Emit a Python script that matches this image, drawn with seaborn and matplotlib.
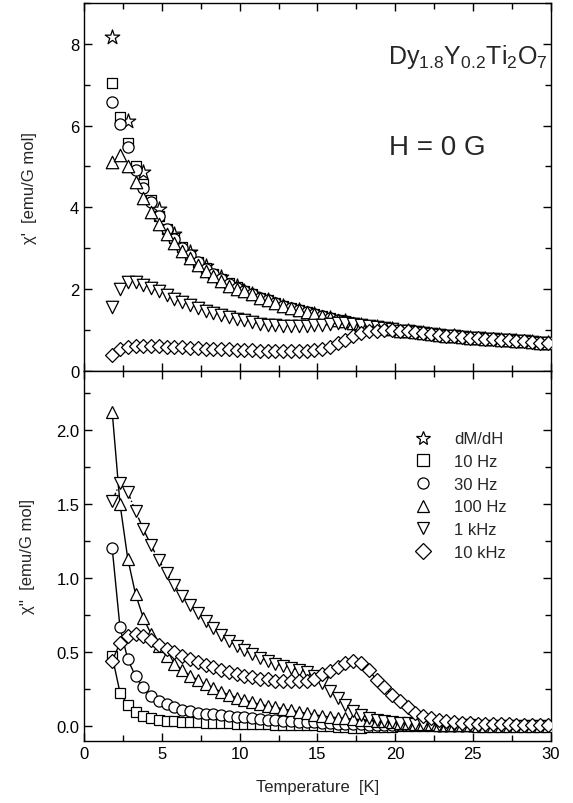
import numpy as np
import matplotlib
matplotlib.use("Agg")
import matplotlib.pyplot as plt
from matplotlib.lines import Line2D
from matplotlib.ticker import MultipleLocator, FormatStrFormatter
import seaborn as sns

# temperature grid of the ac data (K)
T_lo = [1.8, 2.3, 2.8, 3.3, 3.8, 4.3, 4.8, 5.3, 5.8, 6.3, 6.8, 7.3, 7.8, 8.3, 8.8, 9.3, 9.8]
T_hi = [10.3, 10.8, 11.3, 11.8, 12.3, 12.8, 13.3, 13.8, 14.3, 14.8,
        15.3, 15.8, 16.3, 16.8, 17.3, 17.8, 18.3, 18.8, 19.3, 19.8,
        20.3, 20.8, 21.3, 21.8, 22.3, 22.8, 23.3, 23.8, 24.3, 24.8,
        25.3, 25.8, 26.3, 26.8, 27.3, 27.8, 28.3, 28.8, 29.3, 29.8]
T_ac = T_lo + T_hi

# dM/dH points (1 K step)
T_dc = [1.8, 2.8, 3.8, 4.8, 5.8, 6.8, 7.8, 8.8, 9.8, 10.8, 11.8, 12.8, 13.8, 14.8, 15.8,
        16.8, 17.8, 18.8, 19.8, 20.8, 21.8, 22.8, 23.8, 24.8, 25.8, 26.8, 27.8, 28.8, 29.8]
chi1_dc = [8.17, 6.12, 4.86, 3.96, 3.35, 2.90, 2.57, 2.29, 2.07, 1.87, 1.72, 1.59, 1.48, 1.38, 1.29,
           1.21, 1.13, 1.07, 1.01, 0.96, 0.92, 0.88, 0.84, 0.81, 0.78, 0.75, 0.73, 0.70, 0.68]

# chi' above 10 K, where the curves fall together
chi1_common = [1.95, 1.87, 1.79, 1.72, 1.65, 1.59, 1.53, 1.48, 1.43, 1.38,
               1.33, 1.29, 1.25, 1.21, 1.17, 1.13, 1.10, 1.07, 1.04, 1.01,
               0.98, 0.96, 0.94, 0.92, 0.90, 0.88, 0.86, 0.84, 0.83, 0.81,
               0.80, 0.78, 0.77, 0.75, 0.74, 0.73, 0.72, 0.70, 0.69, 0.68]

chi1_10 = [7.05, 6.22, 5.58, 5.02, 4.58, 4.18, 3.78, 3.48, 3.24, 3.03, 2.84, 2.67, 2.51, 2.37, 2.25, 2.14, 2.04] + chi1_common
chi1_30 = [6.58, 6.05, 5.47, 4.92, 4.47, 4.12, 3.78, 3.46, 3.22, 3.01, 2.82, 2.66, 2.50, 2.36, 2.24, 2.13, 2.03] + chi1_common
chi1_100 = [5.12, 5.28, 5.00, 4.63, 4.23, 3.89, 3.59, 3.35, 3.13, 2.92, 2.75, 2.59, 2.43, 2.32, 2.19, 2.08, 1.99] + chi1_common
chi1_1k = ([1.55, 2.00, 2.16, 2.16, 2.10, 2.02, 1.94, 1.85, 1.76, 1.68, 1.60, 1.53, 1.47, 1.41, 1.36, 1.31, 1.27]
           + [1.23, 1.19, 1.15, 1.13, 1.11, 1.10, 1.09, 1.09, 1.10, 1.11, 1.13, 1.15, 1.17, 1.17, 1.15]
           + chi1_common[15:])
chi1_10k = ([0.39, 0.52, 0.58, 0.60, 0.61, 0.61, 0.60, 0.59, 0.58, 0.57, 0.56, 0.55, 0.54, 0.53, 0.53, 0.52, 0.51]
            + [0.50, 0.50, 0.49, 0.49, 0.48, 0.48, 0.47, 0.47, 0.48, 0.50, 0.53, 0.59, 0.67, 0.76, 0.85,
               0.92, 0.96, 0.98, 0.99, 0.99, 0.97]
            + chi1_common[21:])

# chi''
chi2_10 = [0.47, 0.225, 0.14, 0.095, 0.068, 0.05, 0.04, 0.033, 0.03, 0.027, 0.025, 0.023, 0.021, 0.02, 0.018, 0.017, 0.015,
           0.014, 0.012, 0.011, 0.010, 0.009, 0.008, 0.007, 0.006, 0.005, 0.004,
           0.002, 0.0, -0.005, -0.01, -0.012, -0.012, -0.01, -0.008, -0.006, -0.005,
           -0.004, -0.003, -0.002, -0.002, -0.001, 0.0, 0.0, 0.0, 0.0, 0.0,
           0.0, 0.0, 0.0, 0.0, 0.0, 0.0, 0.0, 0.0, 0.0, 0.0]
chi2_30 = [1.20, 0.665, 0.45, 0.335, 0.26, 0.205, 0.17, 0.145, 0.125, 0.11, 0.10, 0.09, 0.083, 0.077, 0.071, 0.066, 0.062,
           0.057, 0.052, 0.047, 0.043, 0.039, 0.035, 0.032, 0.029, 0.026, 0.023,
           0.020, 0.018, 0.016, 0.014, 0.012, 0.010, 0.009, 0.008, 0.007, 0.006,
           0.005, 0.004, 0.004, 0.003, 0.003, 0.002, 0.002, 0.002, 0.001, 0.001,
           0.0, 0.0, 0.0, 0.0, 0.0, 0.0, 0.0, 0.0, 0.0, 0.0]
chi2_100 = [2.12, 1.50, 1.13, 0.89, 0.73, 0.62, 0.54, 0.47, 0.42, 0.38, 0.34, 0.31, 0.28, 0.255, 0.23, 0.21, 0.19,
            0.175, 0.16, 0.145, 0.135, 0.125, 0.115, 0.105, 0.095, 0.085, 0.075,
            0.068, 0.06, 0.055, 0.05, 0.046, 0.042, 0.038, 0.034, 0.03, 0.026,
            0.022, 0.018, 0.015, 0.012, 0.01, 0.008, 0.006, 0.005, 0.004, 0.003,
            0.002, 0.002, 0.001, 0.001, 0.0, 0.0, 0.0, 0.0, 0.0, 0.0]
chi2_1k = [1.52, 1.64, 1.58, 1.45, 1.33, 1.22, 1.12, 1.03, 0.95, 0.88, 0.815, 0.76, 0.71, 0.66, 0.615, 0.575, 0.54,
           0.51, 0.485, 0.46, 0.44, 0.42, 0.405, 0.39, 0.38, 0.365, 0.34,
           0.29, 0.235, 0.19, 0.14, 0.10, 0.075, 0.055, 0.04, 0.03, 0.025,
           0.02, 0.018, 0.015, 0.012, 0.01, 0.008, 0.006, 0.005, 0.004, 0.003,
           0.002, 0.002, 0.001, 0.001, 0.0, 0.0, 0.0, 0.0, 0.0, 0.0]
chi2_10k = [0.44, 0.56, 0.61, 0.62, 0.61, 0.58, 0.545, 0.52, 0.50, 0.47, 0.45, 0.43, 0.41, 0.395, 0.38, 0.365, 0.35,
            0.34, 0.33, 0.32, 0.315, 0.305, 0.30, 0.30, 0.30, 0.305, 0.32,
            0.35, 0.37, 0.40, 0.425, 0.44, 0.425, 0.38, 0.31, 0.265, 0.21,
            0.165, 0.125, 0.09, 0.067, 0.05, 0.04, 0.03, 0.025, 0.02, 0.018,
            0.015, 0.013, 0.012, 0.01, 0.01, 0.008, 0.007, 0.006, 0.005, 0.005]

labels = ["dM/dH", "10 Hz", "30 Hz", "100 Hz", "1 kHz", "10 kHz"]
markers = ["*", "s", "o", "^", "v", "D"]

sns.set_theme(style="ticks")
plt.rcParams["font.family"] = ["Liberation Sans", "DejaVu Sans"]
plt.rcParams["mathtext.default"] = "regular"

fig = plt.figure(figsize=(5.73, 8.04), dpi=100)
ax1 = fig.add_axes([0.147, 0.5377, 0.814, 0.4573])
ax2 = fig.add_axes([0.147, 0.0775, 0.814, 0.4602])

sizes = {"*": 120, "s": 55, "o": 65, "^": 80, "v": 80, "D": 50}

# top panel: chi'
top_series = [(T_dc, chi1_dc, "*"), (T_ac, chi1_10, "s"), (T_ac, chi1_30, "o"),
              (T_ac, chi1_100, "^"), (T_ac, chi1_1k, "v"), (T_ac, chi1_10k, "D")]
for xs, ys, m in top_series:
    sns.scatterplot(x=xs, y=ys, ax=ax1, marker=m, s=sizes[m], color="white",
                    edgecolor="black", linewidth=0.9, zorder=3)

# bottom panel: chi''
bot_series = [(chi2_10, "s", "-"), (chi2_30, "o", "-"), (chi2_100, "^", "-"),
              (chi2_1k, "v", "-."), (chi2_10k, "D", "-")]
msz = {"s": 7, "o": 8, "^": 9, "v": 9, "D": 7}
for ys, m, ls in bot_series:
    sns.lineplot(x=T_ac, y=ys, ax=ax2, marker=m, markersize=msz[m], markerfacecolor="white",
                 markeredgecolor="black", markeredgewidth=0.9, color="black", linewidth=1.0,
                 linestyle=ls, sort=False, errorbar=None, zorder=3)

for ax in (ax1, ax2):
    ax.set_xlim(0, 30)
    ax.xaxis.set_major_locator(MultipleLocator(5))
    ax.xaxis.set_minor_locator(MultipleLocator(2.5))
    ax.tick_params(which="both", direction="in", top=True, right=True, labelsize=12, colors="black")
    ax.tick_params(which="major", length=6, width=1)
    ax.tick_params(which="minor", length=4, width=1)
    for sp in ax.spines.values():
        sp.set_color("black")
        sp.set_linewidth(1.0)

ax1.set_ylim(0, 9)
ax1.yaxis.set_major_locator(MultipleLocator(2))
ax1.yaxis.set_minor_locator(MultipleLocator(1))
ax1.tick_params(labelbottom=False)
ax1.set_ylabel("χ'  [emu/G mol]", fontsize=12, labelpad=24)

ax2.set_ylim(-0.1, 2.4)
ax2.yaxis.set_major_locator(MultipleLocator(0.5))
ax2.yaxis.set_minor_locator(MultipleLocator(0.25))
ax2.yaxis.set_major_formatter(FormatStrFormatter("%.1f"))
ax2.set_ylabel("χ''  [emu/G mol]", fontsize=12, labelpad=15)
ax2.set_xlabel("Temperature  [K]", fontsize=12, labelpad=13)

ax1.text(0.823, 0.856, r"Dy$_{1.8}$Y$_{0.2}$Ti$_{2}$O$_{7}$", transform=ax1.transAxes,
         ha="center", va="center", fontsize=18)
ax1.text(0.758, 0.608, "H = 0 G", transform=ax1.transAxes, ha="center", va="center", fontsize=20)

handles = [Line2D([], [], linestyle="none", marker=m, markersize=8 if m != "*" else 10,
                  markerfacecolor="white", markeredgecolor="black", markeredgewidth=0.9)
           for m in markers]
ax2.legend(handles, labels, loc="upper left", bbox_to_anchor=(0.708, 0.836), frameon=False,
           fontsize=12, handlelength=1.0, handletextpad=1.4, labelspacing=0.46,
           borderpad=0, borderaxespad=0)

fig.savefig("out.png", dpi=100)
